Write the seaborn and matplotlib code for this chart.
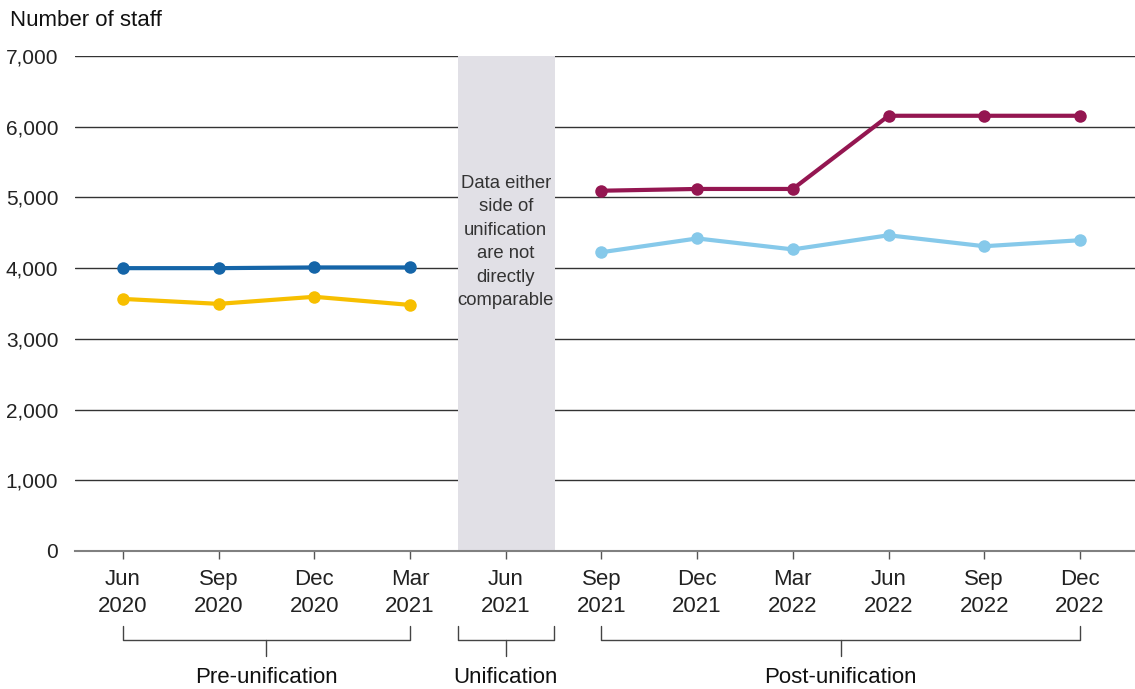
import matplotlib
matplotlib.use("Agg")
import matplotlib.pyplot as plt
import matplotlib.transforms as mtransforms
import numpy as np
import pandas as pd
import seaborn as sns

# Quarter labels along the x axis
quarters = ["Jun\n2020", "Sep\n2020", "Dec\n2020", "Mar\n2021", "Jun\n2021",
            "Sep\n2021", "Dec\n2021", "Mar\n2022", "Jun\n2022", "Sep\n2022", "Dec\n2022"]

# Pre-unification series (Jun 2020 - Mar 2021)
pre_quarters = quarters[0:4]
pre_dark_blue = [4000, 4000, 4010, 4010]
pre_yellow = [3565, 3495, 3595, 3480]

# Post-unification series (Sep 2021 - Dec 2022)
post_quarters = quarters[5:11]
post_purple = [5095, 5120, 5120, 6155, 6155, 6155]
post_light_blue = [4225, 4420, 4265, 4465, 4310, 4395]

y_ticks = [0, 1000, 2000, 3000, 4000, 5000, 6000, 7000]
y_tick_labels = ["0", "1,000", "2,000", "3,000", "4,000", "5,000", "6,000", "7,000"]

groups = [("Pre-unification", "Jun\n2020", "Mar\n2021"),
          ("Unification", None, None),
          ("Post-unification", "Sep\n2021", "Dec\n2022")]

colors = {"dark_blue": "#1565a8", "yellow": "#f7bf00",
          "purple": "#941651", "light_blue": "#86c9ea"}

pos = {q: i for i, q in enumerate(quarters)}
frames = []
for name, qs, vals in [("dark_blue", pre_quarters, pre_dark_blue),
                       ("yellow", pre_quarters, pre_yellow),
                       ("purple", post_quarters, post_purple),
                       ("light_blue", post_quarters, post_light_blue)]:
    frames.append(pd.DataFrame({"x": [pos[q] for q in qs], "staff": vals, "series": name}))
df = pd.concat(frames, ignore_index=True)

sns.set_theme(style="white")
plt.rcParams["font.family"] = ["Liberation Sans", "DejaVu Sans"]

fig = plt.figure(figsize=(11.35, 6.89), dpi=100)
ax = fig.add_axes([0.0661, 0.2003, 0.9335, 0.7184])

# Unification band
uni = pos["Jun\n2021"]
ax.axvspan(uni - 0.5, uni + 0.52, color="#e1e0e6", zorder=1, lw=0)
ax.text(uni, 4370, "Data either\nside of\nunification\nare not\ndirectly\ncomparable",
        ha="center", va="center", fontsize=13.3, color="#333333", linespacing=1.5, zorder=2)

for y in y_ticks[1:]:
    ax.axhline(y, color="#333333", lw=1.0, zorder=0.5)

sns.lineplot(data=df, x="x", y="staff", hue="series", units="series", estimator=None,
             palette=colors, marker="o", markersize=9, markeredgewidth=0,
             linewidth=3, legend=False, ax=ax, zorder=3)

ax.set_xlim(-0.5, 10.57)
ax.set_ylim(0, 7000)
ax.set_xticks(range(len(quarters)))
ax.set_xticklabels(quarters, fontsize=16, color="#222222", linespacing=1.38)
ax.set_yticks(y_ticks)
ax.set_yticklabels(y_tick_labels, fontsize=15, color="#222222")
ax.tick_params(axis="y", length=0, pad=12)
ax.tick_params(axis="x", length=6, width=1, color="#555555", pad=7, bottom=True)
ax.set_xlabel("")
ax.set_ylabel("")
for s in ["top", "right", "left"]:
    ax.spines[s].set_visible(False)
ax.spines["bottom"].set_color("#808080")
ax.spines["bottom"].set_linewidth(1.5)

fig.text(10 / 1135, 1 - 20 / 689, "Number of staff", fontsize=16, color="#111111",
         ha="left", va="center")

# Group brackets below the tick labels
tr = mtransforms.blended_transform_factory(ax.transData, ax.transAxes)
ah = 495.0
def yax(py):
    return (551 - py) / ah

for label, a, b in groups:
    if a is None:
        x0, x1 = uni - 0.5, uni + 0.5
    else:
        x0, x1 = pos[a], pos[b]
    xm = (x0 + x1) / 2
    ax.plot([x0, x0, x1, x1], [yax(626), yax(640), yax(640), yax(626)],
            color="#444444", lw=1, transform=tr, clip_on=False)
    ax.plot([xm, xm], [yax(640), yax(656)], color="#444444", lw=1,
            transform=tr, clip_on=False)
    ax.text(xm, yax(678), label, ha="center", va="center", fontsize=16,
            color="#111111", transform=tr)

fig.savefig("out.png", dpi=100)
